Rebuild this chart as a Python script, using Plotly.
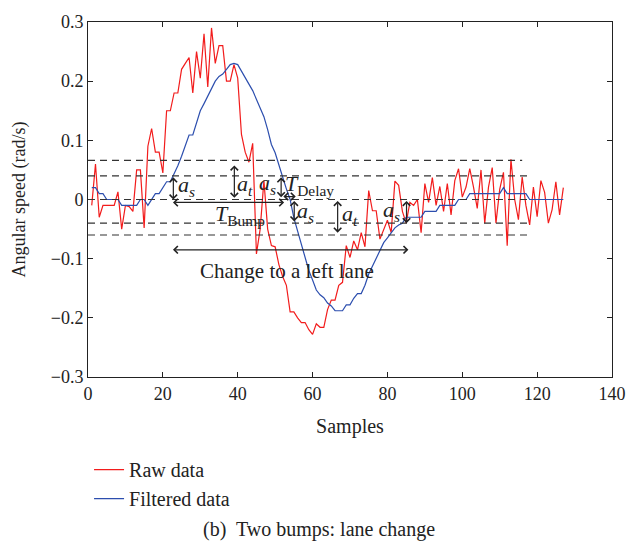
import plotly.graph_objects as go

samples = list(range(1, 128))

raw_data = [
    -0.01, 0.06, -0.03, -0.01, -0.01, -0.01, -0.01, 0.013, -0.05, -0.01,
    -0.012, -0.02, 0.05, 0.05, -0.048, 0.09, 0.12, 0.08, 0.08, 0.045,
    0.15, 0.15, 0.18, 0.18, 0.22, 0.23, 0.24, 0.18, 0.25, 0.205,
    0.28, 0.19, 0.29, 0.23, 0.26, 0.26, 0.2, 0.2, 0.228, 0.205,
    0.11, 0.08, 0.063, 0.095, -0.092, -0.05, 0.032, -0.05, -0.078, -0.08,
    -0.11, -0.13, -0.145, -0.19, -0.19, -0.2, -0.208, -0.208, -0.22, -0.228,
    -0.21, -0.216, -0.216, -0.186, -0.17, -0.17, -0.145, -0.14, -0.078, -0.098,
    -0.07, -0.085, -0.056, -0.08, 0.015, -0.019, -0.019, -0.067, -0.052, -0.035,
    -0.056, 0.031, 0.024, -0.02, -0.04, -0.005, -0.01, 0.0, -0.056, 0.027,
    -0.005, 0.037, -0.01, 0.022, -0.02, 0.027, -0.026, 0.032, 0.052, 0.004,
    0.021, 0.052, 0.021, -0.015, 0.05, -0.04, 0.021, 0.054, -0.04, 0.017,
    0.046, -0.078, 0.068, 0.0, -0.034, 0.038, -0.01, -0.043, 0.021, -0.029,
    0.032, 0.012, -0.04, -0.017, 0.03, -0.026, 0.02,
]

filtered_data = [
    0.02, 0.02, 0.01, 0.01, 0.0, 0.0, 0.0, 0.0, -0.01, -0.01,
    -0.01, -0.01, -0.01, 0.0, 0.0, -0.01, 0.0, 0.01, 0.01, 0.02,
    0.03, 0.03, 0.043, 0.057, 0.073, 0.09, 0.109, 0.109, 0.131, 0.15,
    0.162, 0.175, 0.188, 0.2, 0.208, 0.212, 0.22, 0.228, 0.23, 0.228,
    0.217, 0.205, 0.195, 0.184, 0.17, 0.154, 0.14, 0.118, 0.093, 0.079,
    0.057, 0.038, 0.018, 0.0, -0.031, -0.054, -0.076, -0.098, -0.12, -0.136,
    -0.153, -0.161, -0.166, -0.175, -0.18, -0.188, -0.188, -0.188, -0.178, -0.178,
    -0.167, -0.159, -0.159, -0.145, -0.126, -0.112, -0.098, -0.084, -0.073, -0.065,
    -0.056, -0.048, -0.043, -0.04, -0.03, -0.03, -0.03, -0.03, -0.03, -0.02,
    -0.02, -0.02, -0.02, -0.01, -0.01, -0.01, -0.01, -0.01, 0.0, 0.0,
    0.0, 0.01, 0.01, 0.01, 0.01, 0.01, 0.01, 0.01, 0.01, 0.01,
    0.02, 0.01, 0.01, 0.01, 0.01, 0.01, 0.01, 0.0, 0.0, 0.0,
    0.0, 0.0, 0.0, 0.0, 0.0, 0.0, 0.0,
]

# threshold (dashed) lines: level, x end
threshold_levels = [0.066, 0.04, 0.0, -0.04, -0.06]
threshold_ends = [116, 118, 118, 118, 118]

# double arrows: (x0, y0) -> (x1, y1)
arrow_x0 = [22.8, 22.3, 39.1, 51.6, 51.8, 55.1, 66.7, 85.1, 22.3]
arrow_y0 = [0.04, -0.005, 0.06, 0.04, 0.005, 0.0, 0.0, 0.0, -0.085]
arrow_x1 = [22.8, 52.4, 39.1, 51.6, 55.5, 55.1, 66.7, 85.1, 85.6]
arrow_y1 = [0.0, -0.005, 0.003, 0.004, 0.005, -0.037, -0.056, -0.04, -0.085]

# labels
label_texts = ["<i>a</i><sub><i>s</i></sub>", "<i>a</i><sub><i>t</i></sub>",
               "<i>a</i><sub><i>s</i></sub>", "<i>T</i><sub>Delay</sub>",
               "<i>a</i><sub><i>s</i></sub>", "<i>a</i><sub><i>t</i></sub>",
               "<i>a</i><sub><i>s</i></sub>", "<i>T</i><sub>Bump</sub>",
               "Change to a left lane"]
label_x = [26.3, 41.9, 48.0, 59.3, 58.1, 70.0, 81.2, 40.6, 53.2]
label_y = [0.022, 0.025, 0.026, 0.025, -0.021, -0.026, -0.019, -0.027, -0.121]

FONT = "Liberation Serif"

fig = go.Figure()
fig.add_trace(go.Scatter(x=samples, y=raw_data, mode="lines", name="Raw data",
                         line=dict(color="#f21c1c", width=1.2)))
fig.add_trace(go.Scatter(x=samples, y=filtered_data, mode="lines", name="Filtered data",
                         line=dict(color="#2c4eae", width=1.2)))

for lev, xe in zip(threshold_levels, threshold_ends):
    fig.add_shape(type="line", x0=0, x1=xe, y0=lev, y1=lev, xref="x", yref="y",
                  line=dict(color="#333333", width=1.2, dash="7px,5px"), layer="above")

for x0, y0, x1, y1 in zip(arrow_x0, arrow_y0, arrow_x1, arrow_y1):
    fig.add_annotation(x=x1, y=y1, ax=x0, ay=y0, xref="x", yref="y", axref="x", ayref="y",
                       text="", showarrow=True, arrowhead=4, startarrowhead=4,
                       arrowside="end+start", arrowsize=1.2, startarrowsize=1.2,
                       arrowwidth=1.2, arrowcolor="#222222", standoff=0, startstandoff=0)

for t, lx, ly in zip(label_texts, label_x, label_y):
    size = 21 if t.startswith("Change") else 22
    fig.add_annotation(x=lx, y=ly, xref="x", yref="y", text=t, showarrow=False,
                       font=dict(family=FONT, size=size, color="#222222"),
                       xanchor="center", yanchor="middle")

fig.add_annotation(x=(319 - 88) / 524, y=(377 - 533) / 362, xref="paper", yref="paper",
                   text="(b)  Two bumps: lane change", showarrow=False,
                   font=dict(family=FONT, size=20, color="#222222"),
                   xanchor="center", yanchor="middle")

fig.update_layout(
    width=641, height=547,
    margin=dict(l=88, r=29, t=15, b=170),
    paper_bgcolor="white", plot_bgcolor="white",
    font=dict(family=FONT, size=18, color="#222222"),
    showlegend=True,
    legend=dict(x=0.002, y=-0.206, xanchor="left", yanchor="top",
                font=dict(family=FONT, size=20, color="#222222"),
                bgcolor="rgba(0,0,0,0)"),
    xaxis=dict(range=[0, 140], dtick=20, tick0=0, showgrid=False, zeroline=False,
               showline=True, linecolor="#222222", linewidth=1, mirror="ticks",
               ticks="inside", ticklen=5, tickcolor="#222222",
               title=dict(text="Samples", font=dict(family=FONT, size=20), standoff=16),
               tickfont=dict(family=FONT, size=18)),
    yaxis=dict(range=[-0.3, 0.3], dtick=0.1, tick0=0, showgrid=False, zeroline=False,
               showline=True, linecolor="#222222", linewidth=1, mirror="ticks",
               ticks="inside", ticklen=5, tickcolor="#222222",
               title=dict(text="Angular speed (rad/s)", font=dict(family=FONT, size=18), standoff=20),
               tickfont=dict(family=FONT, size=18)),
)

fig.write_html("out.html")
